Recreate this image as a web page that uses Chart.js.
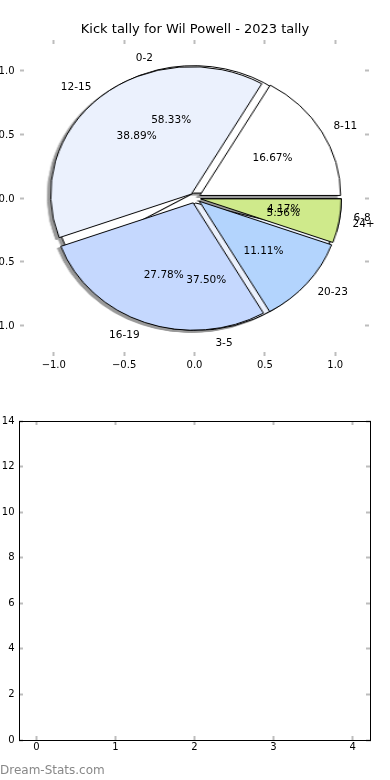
<!DOCTYPE html>
<html>
<head>
<meta charset="utf-8">
<title>Kick tally for Wil Powell - 2023 tally</title>
<script src="https://cdn.jsdelivr.net/npm/chart.js@4.4.1/dist/chart.umd.min.js"></script>
<style>
  html, body { margin: 0; padding: 0; background: #fff; }
  body { width: 390px; height: 780px; position: relative; overflow: hidden; font-family: 'DejaVu Sans', sans-serif; }
  .box { position: absolute; }
  #pie-axes-box { left: 0; top: 0; width: 390px; height: 380px; z-index: 3; }
  #pie-box { width: 300px; height: 300px; z-index: 2; filter: drop-shadow(-2.5px 2.5px 0 rgba(70,70,70,0.55)); }
  #pie-box .layer { position: absolute; left: 0; top: 0; width: 300px; height: 300px; }
  #empty-box { left: 0; top: 380px; width: 390px; height: 400px; }
  #credit { position: absolute; left: 0; top: 763px; font-size: 12px; line-height: 14px; color: #888; }
</style>
</head>
<body>
<div class="box" id="pie-axes-box"><canvas id="pie-axes"></canvas></div>
<div class="box" id="pie-box">
  <div class="layer"><canvas id="pie-a"></canvas></div>
  <div class="layer"><canvas id="pie-b"></canvas></div>
</div>
<div class="box" id="empty-box"><canvas id="empty-chart"></canvas></div>
<div id="credit">Dream-Stats.com</div>
<script>
// kick ranges and how many times each came up (two pies drawn on top of each other)
const RANGES_A = ['0-2', '3-5', '6-8'];
const COUNTS_A = [14, 9, 1];
const RANGES_B = ['8-11', '12-15', '16-19', '20-23', '24+'];
const COUNTS_B = [3, 7, 5, 2, 1];

const PIE_AXIS_TICKS = [-1, -0.5, 0, 0.5, 1];
const EMPTY_X_TICKS = [0, 1, 2, 3, 4];
const EMPTY_Y_TICKS = [0, 2, 4, 6, 8, 10, 12, 14];

const WEDGE_COLORS = ['#ffffff', '#ebf1fd', '#c5d8fe', '#b3d4fd', '#cfea8b'];
const AX_LIM = 1.24;
const EXPLODE = 0.04;
const LABEL_DIST = 1.1;
const PCT_DIST = 0.6;
const PIE_BOX = 300;

Chart.defaults.font.family = "'DejaVu Sans', sans-serif";
Chart.defaults.font.size = 10;
Chart.defaults.color = '#000';

const fmtTick = v => v.toFixed(1).replace('-', '\u2212');
const fixTicks = values => scale => { scale.ticks = values.map(v => ({ value: v })); };
const fixSize = (dim, px) => scale => { scale[dim] = px; };

// matplotlib style: short grey ticks pointing into the axes
function tickMarks() {
    return { drawOnChartArea: false, drawTicks: true, tickLength: -4, tickWidth: 2, tickColor: '#bdbdbd', color: '#bdbdbd' };
}

function axis(position, min, max, values, size, labels) {
    const horizontal = position === 'top' || position === 'bottom';
    return {
        type: 'linear',
        position,
        min,
        max,
        grid: tickMarks(),
        border: { display: false },
        ticks: labels ? { padding: labels.padding, labelOffset: labels.offset || 0, callback: labels.format } : { display: false },
        afterBuildTicks: fixTicks(values),
        afterFit: fixSize(horizontal ? 'height' : 'width', size),
    };
}

// wedge names at 1.1 r, percentages at 0.6 r, both pushed out by the explode
const wedgeText = {
    id: 'wedgeText',
    afterDraw(chart) {
        const { ctx, scales: { x, y } } = chart;
        ctx.save();
        ctx.font = "10.5px 'DejaVu Sans'";
        ctx.fillStyle = '#000';
        ctx.textBaseline = 'middle';
        [[RANGES_A, COUNTS_A], [RANGES_B, COUNTS_B]].forEach(([names, counts]) => {
            const total = counts.reduce((a, b) => a + b, 0);
            let cum = 0;
            counts.forEach((v, i) => {
                const mid = 2 * Math.PI * (cum + v / 2) / total;
                cum += v;
                const c = Math.cos(mid), s = Math.sin(mid);
                const lx = (LABEL_DIST + EXPLODE) * c;
                ctx.textAlign = lx > 0 ? 'left' : 'right';
                ctx.fillText(names[i], x.getPixelForValue(lx), y.getPixelForValue((LABEL_DIST + EXPLODE) * s) + 1);
                ctx.textAlign = 'center';
                ctx.fillText((100 * v / total).toFixed(2) + '%',
                    x.getPixelForValue((PCT_DIST + EXPLODE) * c), y.getPixelForValue((PCT_DIST + EXPLODE) * s) + 1);
            });
        });
        ctx.restore();
    },
};

const pieAxes = new Chart(document.getElementById('pie-axes'), {
    type: 'scatter',
    data: { datasets: [{ data: [] }] },
    options: {
        responsive: true,
        maintainAspectRatio: false,
        animation: false,
        events: [],
        layout: { padding: { top: 22, left: 0, right: 0, bottom: 0 } },
        plugins: {
            legend: { display: false },
            tooltip: { enabled: false },
            title: {
                display: true,
                text: 'Kick tally for Wil Powell - 2023 tally',
                color: '#000',
                font: { size: 13, weight: 'normal' },
                padding: { top: 0, bottom: 0 },
            },
        },
        scales: {
            x:  axis('bottom', -AX_LIM, AX_LIM, PIE_AXIS_TICKS, 24,  { padding: 7,   format: fmtTick }),
            x2: axis('top',    -AX_LIM, AX_LIM, PIE_AXIS_TICKS, 2.4),
            y:  axis('left',   -AX_LIM, AX_LIM, PIE_AXIS_TICKS, 20,  { padding: 9.5, offset: 1, format: fmtTick }),
            y2: axis('right',  -AX_LIM, AX_LIM, PIE_AXIS_TICKS, 21),
        },
    },
    plugins: [wedgeText],
});

// the pie axes are not equal aspect, so the round pie gets stretched to an ellipse
const sx = pieAxes.scales.x, sy = pieAxes.scales.y;
const cx = sx.getPixelForValue(0), cy = sy.getPixelForValue(0);
const rx = sx.getPixelForValue(1) - cx, ry = cy - sy.getPixelForValue(1);
const pieBox = document.getElementById('pie-box');
pieBox.style.left = (cx - PIE_BOX / 2) + 'px';
pieBox.style.top = (cy - PIE_BOX / 2) + 'px';
pieBox.style.transform = `scaleX(${rx / ry})`;

// explode: slide every wedge out along its middle angle, radius unchanged
const explode = {
    id: 'explode',
    afterDatasetUpdate(chart, args) {
        args.meta.data.forEach(arc => {
            const mid = (arc.startAngle + arc.endAngle) / 2;
            const d = EXPLODE * arc.outerRadius;
            arc.x += Math.cos(mid) * d;
            arc.y += Math.sin(mid) * d;
        });
    },
};

// matplotlib goes counter-clockwise from 3 o'clock, Chart.js clockwise, so feed it reversed
function makePie(id, names, counts) {
    return new Chart(document.getElementById(id), {
        type: 'pie',
        data: {
            labels: names.slice().reverse(),
            datasets: [{
                data: counts.slice().reverse(),
                backgroundColor: WEDGE_COLORS.slice(0, counts.length).reverse(),
                borderColor: '#000',
                borderWidth: 1,
            }],
        },
        options: {
            responsive: true,
            maintainAspectRatio: false,
            animation: false,
            events: [],
            rotation: 90,
            radius: ry,
            layout: { padding: 0 },
            plugins: { legend: { display: false }, tooltip: { enabled: false } },
        },
        plugins: [explode],
    });
}

makePie('pie-a', RANGES_A, COUNTS_A);
makePie('pie-b', RANGES_B, COUNTS_B);

// lower panel: empty framed axes
function framed(position, min, max, values, size, labels) {
    const a = axis(position, min, max, values, size, labels);
    a.border = { display: true, color: '#000', width: 1 };
    return a;
}

new Chart(document.getElementById('empty-chart'), {
    type: 'scatter',
    data: { datasets: [{ data: [] }] },
    options: {
        responsive: true,
        maintainAspectRatio: false,
        animation: false,
        events: [],
        layout: { padding: 0 },
        plugins: { legend: { display: false }, tooltip: { enabled: false } },
        scales: {
            x:  framed('bottom', -0.22, 4.22, EMPTY_X_TICKS, 40, { padding: 5.5, format: v => String(v) }),
            x2: framed('top',    -0.22, 4.22, EMPTY_X_TICKS, 41),
            y:  framed('left',   0, 14, EMPTY_Y_TICKS, 19, { padding: 8.5, format: v => String(v) }),
            y2: framed('right',  0, 14, EMPTY_Y_TICKS, 20),
        },
    },
});
</script>
</body>
</html>
